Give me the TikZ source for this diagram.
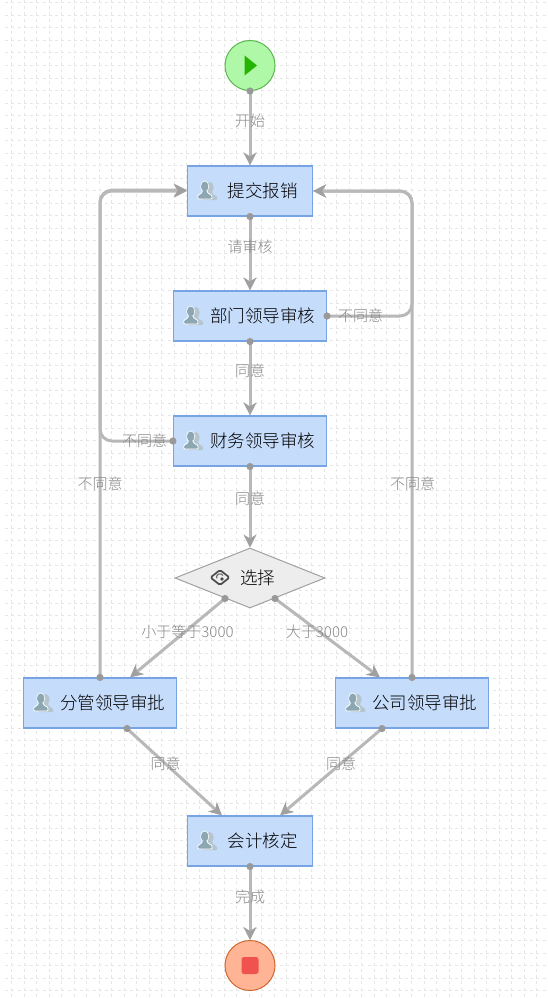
\documentclass[tikz,border=0pt]{standalone}
\usepackage{fontspec}
\setmainfont{Noto Sans CJK SC}[UprightFont={* Light}]
\usetikzlibrary{shapes.geometric,arrows.meta}
\definecolor{gridc}{HTML}{E6E6E6}
\definecolor{edgec}{HTML}{B8B8B8}
\definecolor{tipc}{HTML}{A0A0A0}
\definecolor{dotc}{HTML}{999999}
\definecolor{labc}{HTML}{888888}
\definecolor{boxf}{HTML}{C6DCFB}
\definecolor{boxd}{HTML}{76A4E4}
\definecolor{userc}{HTML}{8CA6B2}
\definecolor{startf}{HTML}{AFF8A8}
\definecolor{startd}{HTML}{5CB84E}
\definecolor{playc}{HTML}{25B400}
\definecolor{endf}{HTML}{FFB595}
\definecolor{endd}{HTML}{D0682F}
\definecolor{squarec}{HTML}{F0534F}
\definecolor{gatef}{HTML}{EDEDED}
\definecolor{gated}{HTML}{A0A0A0}
\tikzset{
 gridline/.style={gridc,line width=1pt,dash pattern=on 3pt off 3.25pt},
 taskbox/.style={draw=boxd,fill=boxf,line width=1.1pt,minimum height=50pt,inner sep=0pt,font=\fontsize{17.5}{17.5}\selectfont,text=black},
 startev/.style={circle,draw=startd,fill=startf,line width=1pt,minimum size=50pt,inner sep=0pt},
 endev/.style={circle,draw=endd,fill=endf,line width=1pt,minimum size=50pt,inner sep=0pt},
 gate/.style={diamond,aspect=2.5,draw=gated,fill=gatef,line width=1pt,minimum width=150pt,minimum height=60pt,inner sep=0pt,font=\fontsize{17.5}{17.5}\selectfont,text=black},
 flow/.style={draw=edgec,line width=3pt,rounded corners=12pt,-{Stealth[length=13pt,width=13pt,inset=4pt,color=tipc]}},
 flowlab/.style={text=labc,inner sep=0pt,font=\fontsize{15}{15}\selectfont},
 portdot/.style={fill=dotc},
 usersicon/.pic={
  \begin{scope}[shift={(5,1)}]
  \path[fill=userc!65!white] (-2.3,-4.5) circle[x radius=4,y radius=5.5];
  \path[fill=userc!65!white,rounded corners=1pt] (-9.3,8) -- (-9.3,6.5) .. controls (-9.3,3) and (-5,3.5) .. (-4.5,-1) -- (-0.2,-1) .. controls (0.5,3.5) and (5,3) .. (5,6.5) -- (5,8) -- cycle;
  \end{scope}
  \path[fill=userc,draw=white,line width=.8pt] (-2.3,-4.5) circle[x radius=4,y radius=5.5];
  \path[fill=userc,draw=white,line width=.8pt,rounded corners=1pt] (-9.3,8) -- (-9.3,6.5) .. controls (-9.3,3) and (-5,3.5) .. (-4.5,-1) -- (-0.2,-1) .. controls (0.5,3.5) and (5,3) .. (5,6.5) -- (5,8) -- cycle;
  \fill[userc] (-2.3,-4.5) circle[x radius=3.6,y radius=5];}
}
\newcommand{\hopT}[1]{\hspace*{25pt}#1}
\begin{document}
\begin{tikzpicture}[x=1pt,y=-1pt]
\useasboundingbox (0,0) rectangle (548,998);
\fill[white] (0,0) rectangle (548,998);
\foreach \k in {0,...,42}{\draw[gridline] ({11.5+12.5*\k},0) -- ({11.5+12.5*\k},998);}
\foreach \k in {0,...,79}{\draw[gridline] (5,{3+12.5*\k}) -- (548,{3+12.5*\k});}

% nodes
\node[startev] (start) at (250,65.5) {};
\fill[playc] (244.5,55.5) -- (257,65.5) -- (244.5,75.5) -- cycle;
\node[taskbox,minimum width=125pt] (submit) at (250,191) {\hopT{提交报销}};
\node[taskbox,minimum width=153pt] (dept) at (250,316) {\hopT{部门领导审核}};
\node[taskbox,minimum width=153pt] (fin) at (250,441) {\hopT{财务领导审核}};
\node[gate] (choice) at (250,578) {\hspace*{15pt}选择};
\node[taskbox,minimum width=153pt] (branch) at (100,703) {\hopT{分管领导审批}};
\node[taskbox,minimum width=153pt] (corp) at (412,703) {\hopT{公司领导审批}};
\node[taskbox,minimum width=125pt] (acct) at (250,841) {\hopT{会计核定}};
\node[endev] (stop) at (250,965.5) {};
\fill[squarec,rounded corners=2.5pt] (241.5,957) rectangle (258.5,974);

% icons
\path (207,191) pic {usersicon};
\path (193,316) pic {usersicon};
\path (193,441) pic {usersicon};
\path (43,703) pic {usersicon};
\path (355,703) pic {usersicon};
\path (207,841) pic {usersicon};
\begin{scope}[shift={(220,577.5)}]
 \draw[black!70,line width=1.7pt,rounded corners=1.5pt] (-9.5,0) -- (0,-7.5) -- (9.5,0) -- (0,7.5) -- cycle;
 \draw[black!55,line width=1.2pt] (3,-2) arc[start angle=-30,end angle=-200,radius=3.5];
 \fill[black!70] (2,1.5) circle[radius=1.8];
\end{scope}

% ports
\coordinate (choiceL) at ([xshift=-25pt,yshift=10pt]choice.south);
\coordinate (choiceR) at ([xshift=25pt,yshift=10pt]choice.south);
\coordinate (branchIn) at ([xshift=30pt]branch.north);
\coordinate (corpIn) at ([xshift=-32pt]corp.north);
\coordinate (branchOut) at ([xshift=27pt]branch.south);
\coordinate (corpOut) at ([xshift=-30pt]corp.south);
\coordinate (acctL) at ([xshift=-28pt]acct.north);
\coordinate (acctR) at ([xshift=30pt]acct.north);
\coordinate (submitW) at ([yshift=0.8pt]submit.west);

% connectors
\draw[flow] (start.south) -- (submit.north);
\draw[flow] (submit.south) -- (dept.north);
\draw[flow] (dept.south) -- (fin.north);
\draw[flow] (fin.south) -- (choice.north);
\draw[flow] (choiceL) -- (branchIn);
\draw[flow] (choiceR) -- (corpIn);
\draw[flow] (branchOut) -- (acctL);
\draw[flow] (corpOut) -- (acctR);
\draw[flow] (acct.south) -- (stop.north);
\draw[flow] (dept.east) -- (dept.east -| corp.north) -- (submit.east -| corp.north) -- (submit.east);
\draw[flow] (corp.north) -- (submit.east -| corp.north) -- (submit.east);
\draw[flow] (fin.west) -- (fin.west -| branch.north) -- (submit.west -| branch.north) -- (submit.west);
\draw[flow] (branch.north) -- (submitW -| branch.north) -- (submitW);

% dots
\foreach \p in {start.south,submit.south,dept.south,fin.south,choiceL,choiceR,branchOut,corpOut,acct.south,dept.east,corp.north,fin.west,branch.north}
 \fill[portdot] (\p) circle[radius=3.6pt];

% labels
\node[flowlab] (l1) at (250,120.5) {开始};
\node[flowlab] (l2) at (250,246.5) {请审核};
\node[flowlab] (l3) at (250,371) {同意};
\node[flowlab] (l4) at (250,498.5) {同意};
\node[flowlab] (l5) at (360.5,316) {不同意};
\node[flowlab] (l6) at (144.5,441) {不同意};
\node[flowlab] (l7) at (100,483.5) {不同意};
\node[flowlab] (l8) at (412.5,483.5) {不同意};
\node[flowlab] (l9) at (187.5,631.5) {小于等于3000};
\node[flowlab] (l10) at (317,631.5) {大于3000};
\node[flowlab] (l11) at (165.5,763.5) {同意};
\node[flowlab] (l12) at (341,763.5) {同意};
\node[flowlab] (l13) at (250,896.5) {完成};
\end{tikzpicture}
\end{document}
